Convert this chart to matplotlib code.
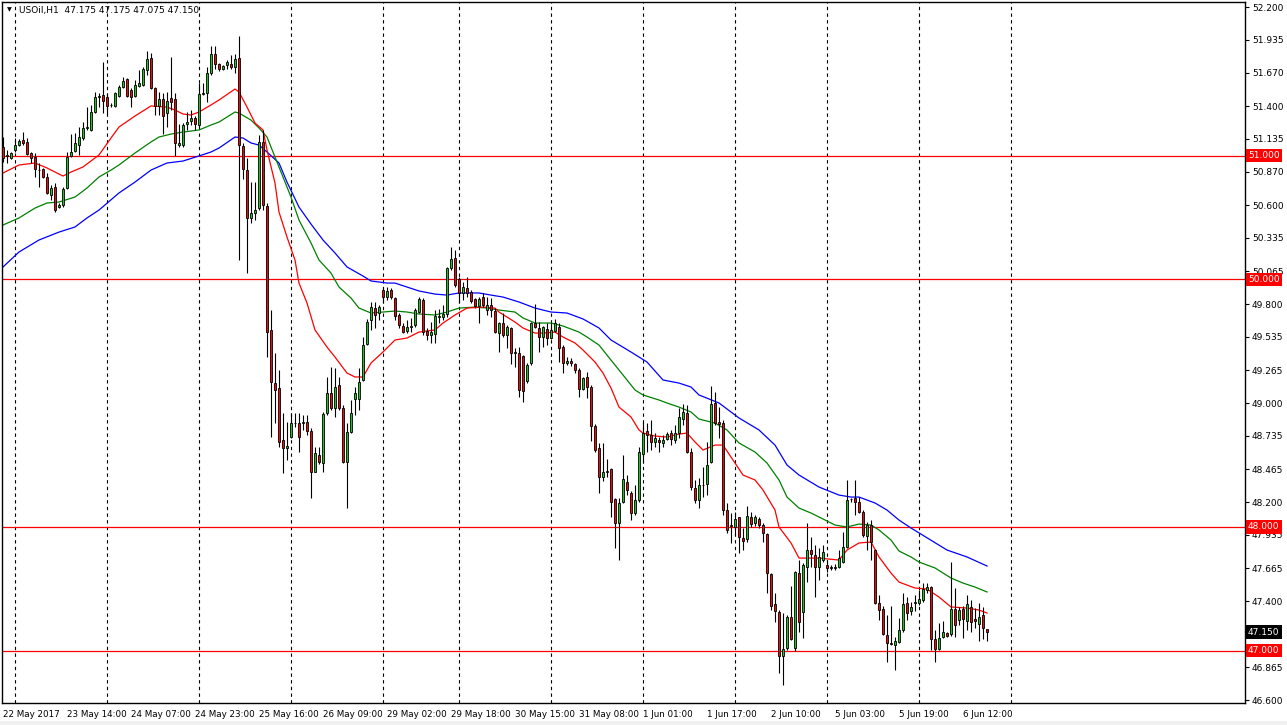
import matplotlib
matplotlib.use("Agg")
import matplotlib.pyplot as plt
import matplotlib.transforms as mtransforms
from matplotlib.patches import Rectangle
import numpy as np

# ---- data (USOil, H1) ----
symbol = "USOil,H1"
last_ohlc = "47.175 47.175 47.075 47.150"

opens = [51.069, 50.997, 50.980, 51.045, 51.085, 51.126, 51.110, 51.021, 50.988, 50.885,
         50.891, 50.827, 50.681, 50.746, 50.584, 50.601, 50.738, 50.997, 51.037, 51.085,
         51.142, 51.223, 51.207, 51.352, 51.473, 51.489, 51.473, 51.409, 51.401, 51.481,
         51.554, 51.619, 51.530, 51.481, 51.562, 51.570, 51.691, 51.788, 51.546, 51.401,
         51.457, 51.344, 51.465, 51.457, 51.085, 51.085, 51.255, 51.279, 51.304, 51.247,
         51.497, 51.506, 51.667, 51.821, 51.740, 51.700, 51.732, 51.740, 51.716, 51.788,
         51.077, 50.883, 50.496, 50.536, 50.576, 51.110, 50.593, 49.591, 49.162, 49.122,
         48.702, 48.637, 48.726, 48.836, 48.839, 48.839, 48.847, 48.774, 48.443, 48.581,
         48.516, 48.920, 49.082, 48.960, 49.146, 48.960, 48.524, 48.766, 49.033, 49.033,
         49.187, 49.477, 49.671, 49.768, 49.728, 49.914, 49.857, 49.914, 49.849, 49.712,
         49.623, 49.582, 49.615, 49.631, 49.736, 49.833, 49.582, 49.550, 49.558, 49.696,
         49.696, 49.720, 50.092, 50.172, 50.003, 49.890, 49.930, 49.898, 49.841, 49.784,
         49.857, 49.752, 49.793, 49.744, 49.566, 49.647, 49.550, 49.607, 49.405, 49.405,
         49.381, 49.179, 49.324, 49.647, 49.607, 49.534, 49.599, 49.526, 49.582, 49.615,
         49.453, 49.324, 49.340, 49.316, 49.267, 49.114, 49.211, 49.130, 48.815, 48.637,
         48.403, 48.440, 48.468, 48.225, 48.031, 48.201, 48.362, 48.274, 48.112, 48.217,
         48.589, 48.774, 48.742, 48.686, 48.702, 48.678, 48.710, 48.758, 48.702, 48.758,
         48.871, 48.920, 48.605, 48.314, 48.217, 48.336, 48.346, 48.524, 49.001, 48.847,
         48.839, 48.136, 48.015, 47.999, 48.080, 47.910, 47.902, 48.080, 48.031, 48.064,
         48.015, 47.942, 47.619, 47.377, 47.312, 46.956, 47.021, 47.272, 47.021, 47.627,
         47.312, 47.676, 47.813, 47.773, 47.676, 47.732, 47.692, 47.676, 47.668, 47.676,
         47.716, 47.837, 48.222, 48.233, 48.201, 48.120, 47.926, 48.015, 47.813, 47.385,
         47.336, 47.126, 47.061, 47.045, 47.070, 47.167, 47.385, 47.320, 47.385, 47.385,
         47.409, 47.490, 47.514, 47.094, 47.013, 47.110, 47.142, 47.134, 47.336, 47.247,
         47.336, 47.239, 47.352, 47.255, 47.215, 47.288, 47.175]

highs = [51.150, 51.045, 51.029, 51.142, 51.134, 51.190, 51.142, 51.029, 51.021, 50.940,
         50.900, 50.859, 50.762, 50.778, 50.617, 50.746, 51.029, 51.174, 51.182, 51.231,
         51.271, 51.392, 51.409, 51.513, 51.506, 51.756, 51.506, 51.425, 51.513, 51.570,
         51.635, 51.627, 51.546, 51.611, 51.691, 51.716, 51.845, 51.829, 51.554, 51.513,
         51.506, 51.513, 51.796, 51.506, 51.255, 51.263, 51.352, 51.368, 51.320, 51.586,
         51.586, 51.716, 51.885, 51.885, 51.748, 51.732, 51.772, 51.813, 51.821, 51.966,
         51.102, 50.980, 50.786, 50.786, 51.166, 51.207, 50.617, 49.752, 49.405, 49.267,
         48.920, 48.847, 48.920, 48.920, 48.920, 48.904, 48.904, 48.799, 48.645, 48.645,
         48.928, 49.211, 49.292, 49.284, 49.211, 48.985, 48.839, 49.025, 49.130, 49.284,
         49.534, 49.679, 49.817, 49.817, 49.793, 49.938, 49.938, 49.930, 49.857, 49.728,
         49.647, 49.671, 49.688, 49.768, 49.857, 49.849, 49.607, 49.655, 49.752, 49.760,
         49.793, 50.100, 50.261, 50.237, 50.019, 49.979, 50.019, 49.914, 49.849, 49.857,
         49.890, 49.857, 49.849, 49.768, 49.655, 49.728, 49.631, 49.615, 49.445, 49.453,
         49.389, 49.324, 49.655, 49.801, 49.655, 49.620, 49.647, 49.647, 49.679, 49.647,
         49.469, 49.372, 49.364, 49.324, 49.284, 49.211, 49.251, 49.146, 48.831, 48.678,
         48.678, 48.550, 48.476, 48.233, 48.233, 48.581, 48.419, 48.290, 48.338, 48.645,
         48.847, 48.839, 48.863, 48.758, 48.726, 48.742, 48.766, 48.783, 48.823, 48.960,
         48.993, 48.985, 48.637, 48.379, 48.395, 48.484, 48.686, 49.138, 49.090, 48.968,
         48.863, 48.193, 48.112, 48.120, 48.080, 47.991, 48.169, 48.120, 48.096, 48.080,
         48.031, 47.950, 47.627, 47.466, 47.328, 47.304, 47.288, 47.522, 47.640, 47.732,
         47.708, 48.031, 47.918, 47.853, 47.829, 47.853, 47.732, 47.692, 47.700, 47.813,
         47.958, 48.379, 48.233, 48.379, 48.241, 48.136, 48.039, 48.055, 47.821, 47.450,
         47.360, 47.288, 47.360, 47.110, 47.263, 47.466, 47.433, 47.393, 47.450, 47.490,
         47.546, 47.546, 47.520, 47.167, 47.223, 47.239, 47.151, 47.716, 47.506, 47.352,
         47.360, 47.450, 47.409, 47.344, 47.385, 47.352, 47.175]

lows = [50.948, 50.940, 50.972, 51.029, 51.077, 51.085, 51.005, 50.940, 50.827, 50.746,
        50.819, 50.690, 50.641, 50.544, 50.576, 50.584, 50.730, 50.988, 51.029, 51.005,
        51.126, 51.207, 51.199, 51.344, 51.392, 51.344, 51.336, 51.392, 51.392, 51.473,
        51.546, 51.473, 51.392, 51.473, 51.554, 51.562, 51.651, 51.538, 51.328, 51.328,
        51.174, 51.231, 51.368, 50.997, 51.069, 51.069, 51.207, 51.247, 51.207, 51.231,
        51.489, 51.433, 51.651, 51.700, 51.683, 51.691, 51.700, 51.700, 51.667, 50.156,
        50.811, 50.051, 50.455, 50.479, 50.560, 50.560, 49.372, 48.726, 48.839, 48.645,
        48.435, 48.540, 48.718, 48.807, 48.605, 48.783, 48.742, 48.233, 48.443, 48.508,
        48.443, 48.904, 48.944, 48.888, 48.944, 48.516, 48.152, 48.758, 48.904, 48.944,
        49.179, 49.469, 49.591, 49.607, 49.671, 49.809, 49.833, 49.841, 49.671, 49.607,
        49.566, 49.566, 49.574, 49.615, 49.728, 49.550, 49.510, 49.486, 49.486, 49.647,
        49.671, 49.696, 50.075, 49.938, 49.809, 49.833, 49.857, 49.809, 49.768, 49.647,
        49.776, 49.712, 49.696, 49.566, 49.413, 49.534, 49.445, 49.316, 49.292, 49.049,
        49.009, 49.162, 49.308, 49.607, 49.413, 49.453, 49.469, 49.518, 49.574, 49.332,
        49.243, 49.308, 49.300, 49.243, 49.049, 49.106, 49.041, 48.694, 48.605, 48.274,
        48.371, 48.400, 48.080, 47.829, 47.732, 48.193, 48.257, 48.055, 48.096, 48.201,
        48.516, 48.605, 48.621, 48.645, 48.605, 48.645, 48.702, 48.661, 48.678, 48.718,
        48.823, 48.597, 48.298, 48.193, 48.152, 48.241, 48.257, 48.516, 48.823, 48.718,
        48.096, 47.950, 47.870, 47.934, 47.789, 47.813, 47.878, 47.999, 48.007, 47.991,
        47.878, 47.466, 47.328, 47.231, 46.819, 46.722, 47.005, 47.086, 46.997, 47.151,
        47.102, 47.554, 47.676, 47.433, 47.570, 47.716, 47.635, 47.651, 47.651, 47.668,
        47.708, 47.829, 48.201, 48.096, 48.112, 47.918, 47.813, 47.732, 47.380, 47.247,
        47.126, 46.908, 47.045, 46.844, 47.061, 47.151, 47.247, 47.288, 47.320, 47.369,
        47.393, 47.466, 47.005, 46.908, 47.005, 47.102, 47.110, 47.118, 47.110, 47.207,
        47.102, 47.167, 47.151, 47.183, 47.078, 47.094, 47.075]

closes = [50.980, 51.005, 51.021, 51.085, 51.118, 51.102, 51.013, 50.980, 50.891, 50.880,
          50.827, 50.698, 50.738, 50.560, 50.601, 50.730, 50.988, 51.029, 51.102, 51.150,
          51.223, 51.231, 51.352, 51.473, 51.481, 51.441, 51.401, 51.406, 51.506, 51.554,
          51.603, 51.481, 51.473, 51.570, 51.586, 51.699, 51.780, 51.546, 51.401, 51.457,
          51.320, 51.441, 51.433, 51.102, 51.102, 51.247, 51.271, 51.304, 51.255, 51.497,
          51.506, 51.667, 51.821, 51.740, 51.700, 51.724, 51.756, 51.716, 51.780, 51.085,
          50.891, 50.496, 50.536, 50.560, 51.110, 50.601, 49.574, 49.170, 49.106, 48.686,
          48.637, 48.653, 48.839, 48.842, 48.726, 48.847, 48.774, 48.443, 48.597, 48.524,
          48.912, 49.082, 48.960, 49.130, 48.960, 48.524, 48.766, 48.920, 49.082, 49.170,
          49.469, 49.655, 49.776, 49.712, 49.776, 49.857, 49.906, 49.857, 49.704, 49.631,
          49.574, 49.615, 49.623, 49.752, 49.841, 49.574, 49.550, 49.574, 49.704, 49.704,
          49.720, 50.092, 50.164, 49.954, 49.890, 49.938, 49.890, 49.825, 49.784, 49.841,
          49.793, 49.793, 49.752, 49.574, 49.647, 49.550, 49.615, 49.405, 49.413, 49.106,
          49.098, 49.308, 49.647, 49.615, 49.534, 49.615, 49.526, 49.591, 49.647, 49.445,
          49.324, 49.340, 49.324, 49.267, 49.114, 49.203, 49.130, 48.815, 48.621, 48.403,
          48.443, 48.450, 48.201, 48.031, 48.193, 48.387, 48.298, 48.112, 48.217, 48.605,
          48.758, 48.742, 48.686, 48.718, 48.686, 48.702, 48.750, 48.710, 48.758, 48.888,
          48.928, 48.605, 48.322, 48.217, 48.338, 48.340, 48.500, 48.993, 48.839, 48.831,
          48.136, 47.975, 48.007, 48.064, 47.918, 47.886, 48.088, 48.023, 48.080, 48.015,
          47.950, 47.627, 47.360, 47.320, 46.956, 47.013, 47.272, 47.094, 47.635, 47.231,
          47.692, 47.813, 47.781, 47.676, 47.757, 47.797, 47.668, 47.668, 47.676, 47.749,
          47.837, 48.217, 48.228, 48.201, 48.120, 47.934, 48.015, 47.878, 47.385, 47.328,
          47.134, 47.061, 47.053, 47.078, 47.167, 47.377, 47.304, 47.352, 47.393, 47.417,
          47.498, 47.514, 47.094, 47.013, 47.102, 47.151, 47.118, 47.336, 47.207, 47.328,
          47.255, 47.377, 47.231, 47.239, 47.272, 47.183, 47.150]

# moving averages, sampled along the lines (bar index -> price)
ma_red_bar = [0, 4, 8, 11, 14, 15, 17, 20, 24, 27, 29, 33, 37, 41, 43, 45, 47, 49, 52, 54,
              58, 59, 61, 63, 65, 66, 68, 69, 71, 73, 74, 76, 78, 81, 83, 86, 88, 90, 92, 95,
              98, 101, 104, 108, 110, 113, 116, 120, 123, 124, 128, 130, 133, 135, 138, 140,
              143, 145, 148, 150, 152, 154, 157, 159, 160, 163, 166, 169, 171, 173, 175, 178,
              180, 183, 185, 188, 190, 193, 194, 197, 199, 204, 209, 211, 214, 217, 219, 222,
              224, 228, 231, 234, 237, 241, 244, 246]
ma_red = [50.859, 50.924, 50.940, 50.900, 50.851, 50.835, 50.867, 50.908, 51.005, 51.142,
          51.231, 51.320, 51.401, 51.392, 51.368, 51.336, 51.328, 51.352, 51.409, 51.449,
          51.538, 51.514, 51.392, 51.263, 51.207, 51.045, 50.778, 50.544, 50.342, 50.156,
          49.970, 49.809, 49.591, 49.453, 49.372, 49.243, 49.211, 49.211, 49.324, 49.413,
          49.510, 49.526, 49.574, 49.591, 49.647, 49.712, 49.768, 49.776, 49.768, 49.736,
          49.655, 49.607, 49.566, 49.566, 49.574, 49.534, 49.486, 49.429, 49.332, 49.243,
          49.122, 48.968, 48.888, 48.783, 48.758, 48.734, 48.726, 48.750, 48.758, 48.686,
          48.621, 48.661, 48.661, 48.516, 48.419, 48.379, 48.298, 48.136, 47.999, 47.870,
          47.748, 47.748, 47.732, 47.813, 47.870, 47.878, 47.757, 47.627, 47.554, 47.506,
          47.498, 47.433, 47.353, 47.344, 47.328, 47.304]

ma_green_bar = [0, 4, 8, 11, 14, 18, 21, 24, 27, 29, 33, 37, 39, 42, 45, 49, 52, 54, 58, 59,
                62, 64, 66, 68, 70, 72, 74, 77, 79, 82, 84, 87, 89, 92, 95, 98, 101, 104, 108,
                111, 114, 118, 121, 124, 128, 130, 133, 137, 140, 144, 146, 149, 152, 156, 158,
                160, 164, 166, 169, 172, 174, 178, 181, 184, 188, 191, 194, 196, 199, 202, 204,
                208, 211, 214, 217, 219, 222, 224, 227, 229, 233, 237, 240, 243, 246]
ma_green = [50.439, 50.496, 50.576, 50.617, 50.625, 50.665, 50.738, 50.827, 50.883, 50.924,
            51.021, 51.110, 51.150, 51.174, 51.190, 51.207, 51.247, 51.271, 51.352, 51.344,
            51.287, 51.223, 51.150, 50.988, 50.827, 50.665, 50.479, 50.294, 50.156, 50.051,
            49.938, 49.849, 49.768, 49.728, 49.736, 49.744, 49.736, 49.720, 49.712, 49.736,
            49.768, 49.776, 49.768, 49.752, 49.736, 49.688, 49.647, 49.647, 49.623, 49.574,
            49.534, 49.469, 49.348, 49.187, 49.106, 49.066, 49.025, 49.001, 48.968, 48.928,
            48.871, 48.839, 48.783, 48.678, 48.605, 48.516, 48.379, 48.241, 48.152, 48.112,
            48.080, 48.015, 47.999, 48.023, 48.015, 47.975, 47.894, 47.805, 47.757, 47.716,
            47.668, 47.587, 47.546, 47.514, 47.474]

ma_blue_bar = [0, 4, 9, 14, 18, 21, 24, 29, 33, 37, 41, 45, 49, 52, 54, 58, 60, 62, 64, 66,
               69, 71, 74, 77, 80, 83, 86, 90, 92, 96, 98, 101, 104, 108, 111, 114, 119, 122,
               125, 129, 133, 137, 141, 145, 149, 152, 157, 161, 165, 169, 172, 174, 179, 184,
               189, 193, 196, 199, 204, 209, 212, 214, 218, 221, 224, 227, 236, 241, 246]
ma_blue = [50.100, 50.221, 50.318, 50.382, 50.423, 50.496, 50.560, 50.698, 50.786, 50.883,
           50.940, 50.956, 50.997, 51.029, 51.061, 51.150, 51.142, 51.102, 51.085, 51.029,
           50.940, 50.786, 50.584, 50.447, 50.318, 50.213, 50.100, 50.027, 49.987, 49.970,
           49.970, 49.938, 49.906, 49.881, 49.873, 49.890, 49.890, 49.873, 49.857, 49.817,
           49.768, 49.736, 49.728, 49.680, 49.607, 49.510, 49.413, 49.332, 49.187, 49.162,
           49.130, 49.066, 49.001, 48.880, 48.783, 48.661, 48.500, 48.419, 48.322, 48.257,
           48.241, 48.241, 48.193, 48.136, 48.055, 47.991, 47.813, 47.757, 47.684]

# hourly bars in each trading day (22 May .. 6 Jun, plus the next day)
bars_per_day = [3, 23, 23, 23, 23, 19, 23, 23, 23, 23, 23, 23]
time_labels = ["22 May 2017", "23 May 14:00", "24 May 07:00", "24 May 23:00",
               "25 May 16:00", "26 May 09:00", "29 May 02:00", "29 May 18:00",
               "30 May 15:00", "31 May 08:00", "1 Jun 01:00", "1 Jun 17:00",
               "2 Jun 10:00", "5 Jun 03:00", "5 Jun 19:00", "6 Jun 12:00"]
label_step = 16

level_lines = [51.0, 50.0, 48.0, 47.0]
price_ticks = [52.200, 51.935, 51.670, 51.400, 51.135, 50.870, 50.600, 50.335, 50.065,
               49.800, 49.535, 49.265, 49.000, 48.735, 48.465, 48.200, 47.935, 47.665,
               47.400, 47.135, 46.865, 46.600]

# ---- figure ----
W, H = 1287, 725
fig = plt.figure(figsize=(W / 100, H / 100), dpi=100)
fig.patch.set_facecolor("white")
ax = fig.add_axes([2 / W, (H - 703) / H, 1243 / W, 701 / H])
ax.set_facecolor("white")

o = np.array(opens)
h = np.array(highs)
l = np.array(lows)
c = np.array(closes)
x = np.arange(len(o))

ax.set_xlim(-0.25, 310.5)
ax.set_ylim(46.577, 52.241)

# day separators
for s in np.cumsum(bars_per_day):
    ax.axvline(s, color="black", lw=0.8, ls=(0, (3, 3)), zorder=1)

# levels
for v in level_lines:
    ax.axhline(v, color="#ff0000", lw=0.9, zorder=2)

# moving averages
ax.plot(ma_blue_bar, ma_blue, color="#0000ff", lw=0.9, zorder=2.5)
ax.plot(ma_green_bar, ma_green, color="#008000", lw=0.9, zorder=2.5)
ax.plot(ma_red_bar, ma_red, color="#ff0000", lw=0.9, zorder=2.5)

# candles
ax.vlines(x, l, h, color="black", lw=0.8, zorder=3)
up = c >= o
lo = np.minimum(o, c)
hh = np.maximum(np.abs(c - o), 0.003)
ax.bar(x[up], hh[up], bottom=lo[up], width=0.55, color="#22c022",
       edgecolor="black", linewidth=0.6, zorder=4)
ax.bar(x[~up], hh[~up], bottom=lo[~up], width=0.55, color="#e01010",
       edgecolor="black", linewidth=0.6, zorder=4)

# axes styling
for sp in ax.spines.values():
    sp.set_color("black")
    sp.set_linewidth(1.0)

ax.yaxis.tick_right()
ax.set_yticks(price_ticks)
# the current-price box hides the 47.135 label
ax.set_yticklabels(["" if abs(v - 47.135) < 1e-6 else f"{v:.3f}" for v in price_ticks])
ax.tick_params(axis="y", direction="out", length=3, width=0.8, labelsize=6.5, pad=2)

xt = np.arange(len(time_labels)) * label_step
ax.set_xticks(xt)
ax.set_xticklabels(time_labels)
for t in ax.get_xticklabels():
    t.set_horizontalalignment("left")
ax.tick_params(axis="x", direction="out", length=0, labelsize=6.3, pad=5)

# price boxes on the right scale
blend = mtransforms.blended_transform_factory(ax.transAxes, ax.transData)
for v in level_lines:
    ax.text(1.0 + 3 / 1243, v, f"{v:.3f}", transform=blend, color="white", fontsize=6.5,
            va="center", ha="left", zorder=10, clip_on=False,
            bbox=dict(boxstyle="square,pad=0.25", fc="#ff0000", ec="none"))
ax.text(1.0 + 3 / 1243, closes[-1], f"{closes[-1]:.3f}", transform=blend, color="white",
        fontsize=6.5, va="center", ha="left", zorder=10, clip_on=False,
        bbox=dict(boxstyle="square,pad=0.25", fc="black", ec="none"))

# header
ax.text(5 / 1243, 1 - 8 / 701, "\u25bc", transform=ax.transAxes, fontsize=4.5,
        va="center", ha="left", color="black")
ax.text(17 / 1243, 1 - 8 / 701, f"{symbol}  {last_ohlc}", transform=ax.transAxes,
        fontsize=6.5, va="center", ha="left", color="black")

# status strip at the very bottom
fig.patches.append(Rectangle((0, 0), 1, 4 / H, transform=fig.transFigure,
                             fc="#f0f0f0", ec="none"))

fig.savefig("out.png", dpi=100)
